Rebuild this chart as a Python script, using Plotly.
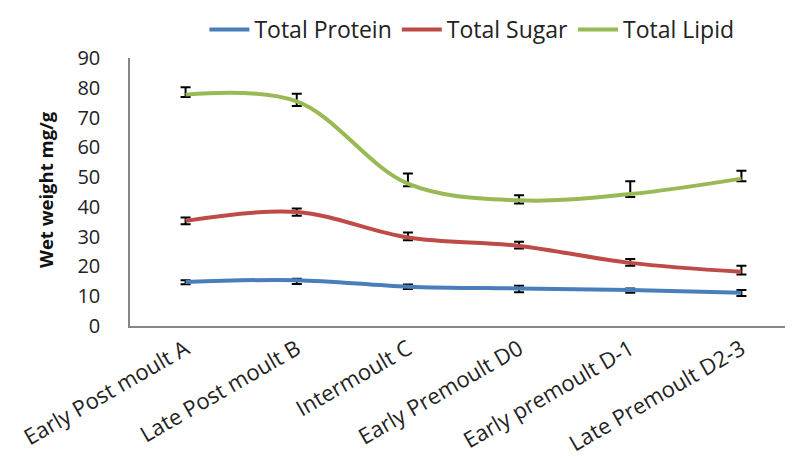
import plotly.graph_objects as go

stages = ["Early Post moult A", "Late Post moult B", "Intermoult C",
          "Early Premoult D0", "Early premoult D-1", "Late Premoult D2-3"]

protein = [14.8, 15.4, 13.2, 12.6, 12.1, 11.2]
protein_plus = [0.6, 0.5, 0.7, 0.9, 0.5, 0.9]
protein_minus = [0.8, 1.3, 0.8, 1.3, 0.9, 1.1]

sugar = [35.3, 38.3, 29.7, 26.9, 21.2, 18.2]
sugar_plus = [1.1, 1.2, 1.7, 1.4, 1.3, 2.0]
sugar_minus = [1.1, 1.3, 0.9, 0.9, 1.0, 0.9]

lipid = [77.7, 75.4, 47.8, 42.2, 44.3, 49.5]
lipid_plus = [2.5, 2.6, 3.4, 1.7, 4.3, 2.6]
lipid_minus = [0.8, 1.5, 0.9, 1.1, 1.0, 0.9]

names = ["Total Protein", "Total Sugar", "Total Lipid"]
colors = ["#4A7EBB", "#BE4B48", "#98B954"]

FONT = "Open Sans"

fig = go.Figure()
for name, vals, plus, minus, col in zip(
        names, [protein, sugar, lipid],
        [protein_plus, sugar_plus, lipid_plus],
        [protein_minus, sugar_minus, lipid_minus], colors):
    fig.add_trace(go.Scatter(
        x=stages, y=vals, name=name, mode="lines",
        line=dict(color=col, width=4, shape="spline", smoothing=1.0),
        error_y=dict(type="data", symmetric=False, array=plus, arrayminus=minus,
                     color="black", thickness=2, width=5),
    ))

L, T, B, R = 122, 50, 142, 4
plot_h = 460 - T - B
plot_w = 793 - L - R

fig.update_layout(
    width=793, height=460,
    margin=dict(l=L, r=R, t=T, b=B, autoexpand=False),
    paper_bgcolor="white", plot_bgcolor="white",
    font=dict(family=FONT, size=20, color="#222222"),
    showlegend=True,
    legend=dict(orientation="h", xref="container", yref="container",
                x=0.585, xanchor="center", y=1.0, yanchor="top",
                font=dict(family=FONT, size=23, color="#222222"),
                itemwidth=40, tracegroupgap=0, borderwidth=0,
                bgcolor="rgba(0,0,0,0)"),
    xaxis=dict(type="category", range=[-0.5, 5.5], showgrid=False,
               showline=True, linecolor="#868686", linewidth=1.5,
               ticks="", tickangle=-30, tickfont=dict(size=22),
               zeroline=False),
    yaxis=dict(range=[0, 90], dtick=10, showgrid=False, zeroline=False,
               showline=True, linecolor="#868686", linewidth=1.5,
               ticks="", ticklabelstandoff=24, tickfont=dict(size=20)),
    annotations=[dict(text="<b>Wet weight mg/g</b>", textangle=-90,
                      xref="paper", yref="paper", x=(45 - 8 - L) / plot_w,
                      y=1 - (190 - 8 - T) / plot_h, xanchor="center", yanchor="middle",
                      showarrow=False, font=dict(family=FONT, size=18.5, color="#111111"))],
)

fig.write_html("out.html")
